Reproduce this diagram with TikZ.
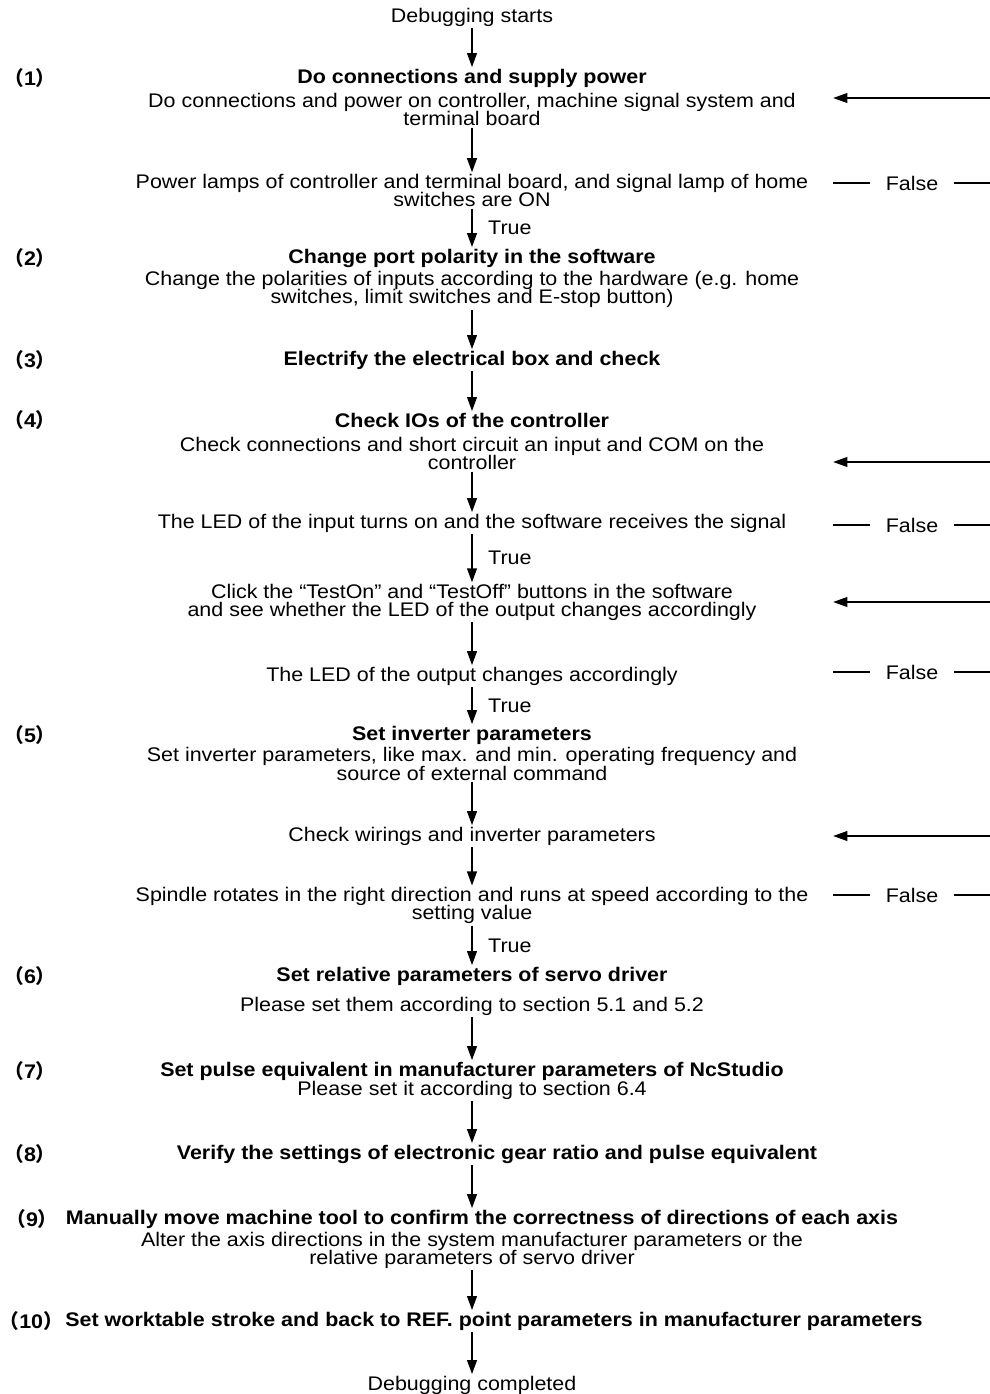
\documentclass[tikz,border=0pt]{standalone}
\usepackage{fontspec}
\setmainfont{Liberation Sans}[FakeStretch=1.09]
\newfontfamily\cjk{Noto Sans CJK SC}
\usetikzlibrary{arrows.meta}

\newcommand\fnt{\fontsize{14pt}{13.1pt}\selectfont\lineskiplimit=-20pt\relax}
\newcommand\stepno[1]{{\cjk （}#1{\cjk ）}}

\begin{document}
\begin{tikzpicture}[>={Triangle[length=10pt,width=7pt]},font=\fnt,
 txt/.style={align=center,inner sep=1pt,font=\fnt},
 head/.style={align=center,inner sep=1pt,font=\fnt\bfseries},
 num/.style={inner sep=0pt,font=\fnt\bfseries},
 flow/.style={->,line width=1.1pt},
 back/.style={line width=0.8pt},
 yes/.style={right=11pt,inner sep=0pt,font=\fnt},
 no/.style={inner xsep=11pt,inner ysep=1pt,font=\fnt}]
\useasboundingbox (0,0) rectangle (24.75,-34.85);
\clip (0,0) rectangle (24.75,-34.85);
\coordinate (ax) at (11.8,0);
% main column
\node[txt] (start) at (11.8,-0.425) {Debugging starts};
\node[head] (s1h) at (11.8,-1.95) {Do connections and supply power};
\node[txt] (s1) at (11.8,-2.74) {Do connections and power on controller, machine signal system and\\terminal board};
\node[txt] (c1) at (11.8,-4.76) {Power lamps of controller and terminal board, and signal lamp of home\\switches are ON};
\node[head] (s2h) at (11.8,-6.45) {Change port polarity in the software};
\node[txt] (s2) at (11.8,-7.24) {Change the polarities of inputs according to the hardware (e.g. home\\switches, limit switches and E-stop button)};
\node[head] (s3) at (11.8,-9.0) {Electrify the electrical box and check};
\node[head] (s4h) at (11.8,-10.5) {Check IOs of the controller};
\node[txt] (s4) at (11.8,-11.34) {Check connections and short circuit an input and COM on the\\controller};
\node[txt] (c4a) at (11.8,-13.075) {The LED of the input turns on and the software receives the signal};
\node[txt] (t4) at (11.8,-15.06) {Click the “TestOn” and “TestOff” buttons in the software\\and see whether the LED of the output changes accordingly};
\node[txt] (c4b) at (11.8,-16.9) {The LED of the output changes accordingly};
\node[head] (s5h) at (11.8,-18.375) {Set inverter parameters};
\node[txt] (s5) at (11.8,-19.1) {Set inverter parameters, like max. and min. operating frequency and\\source of external command};
\node[txt] (w5) at (11.8,-20.9) {Check wirings and inverter parameters};
\node[txt] (c5) at (11.8,-22.64) {Spindle rotates in the right direction and runs at speed according to the\\setting value};
\node[head] (s6h) at (11.8,-24.4) {Set relative parameters of servo driver};
\node[txt] (s6) at (11.8,-25.15) {Please set them according to section 5.1 and 5.2};
\node[head] (s7h) at (11.8,-26.775) {Set pulse equivalent in manufacturer parameters of NcStudio};
\node[txt] (s7) at (11.8,-27.25) {Please set it according to section 6.4};
\node[head] (s8) at (12.425,-28.85) {Verify the settings of electronic gear ratio and pulse equivalent};
\node[head] (s9h) at (12.05,-30.475) {Manually move machine tool to confirm the correctness of directions of each axis};
\node[txt] (s9) at (11.8,-31.26) {Alter the axis directions in the system manufacturer parameters or the\\relative parameters of servo driver};
\node[head] (s10) at (12.35,-33.025) {Set worktable stroke and back to REF. point parameters in manufacturer parameters};
\node[txt] (end) at (11.8,-34.625) {Debugging completed};
% step numbers
\node[num] (n1) at (0.75,-1.95) {\stepno{1}};
\node[num] (n2) at (0.75,-6.45) {\stepno{2}};
\node[num] (n3) at (0.75,-9.0) {\stepno{3}};
\node[num] (n4) at (0.75,-10.5) {\stepno{4}};
\node[num] (n5) at (0.75,-18.375) {\stepno{5}};
\node[num] (n6) at (0.75,-24.4) {\stepno{6}};
\node[num] (n7) at (0.75,-26.775) {\stepno{7}};
\node[num] (n8) at (0.75,-28.85) {\stepno{8}};
\node[num] (n9) at (0.8,-30.475) {\stepno{9}};
\node[num] (n10) at (0.78,-33.025) {\stepno{10}};
% arrows down
\draw[flow] (start) -- (s1h);
\draw[flow] (s1) -- (c1);
\draw[flow] (c1) -- node[yes] {True} (s2h);
\draw[flow] (s2) -- (s3);
\draw[flow] (s3) -- (s4h);
\draw[flow] (s4) -- (c4a);
\draw[flow] (c4a) -- node[yes] {True} (t4);
\draw[flow] (t4) -- (c4b);
\draw[flow] (c4b) -- node[yes] {True} (s5h);
\draw[flow] (s5) -- (w5);
\draw[flow] (w5) -- (c5);
\draw[flow] (c5) -- node[yes] {True} (s6h);
\draw[flow] (s6) -- (s7h);
\draw[flow] (s7.south) -- (s8.north -| ax);
\draw[flow] (s8.south -| ax) -- (s9h.north -| ax);
\draw[flow] (s9) -- (s10.north -| ax);
\draw[flow] (s10.south -| ax) -- (end);
% false branches
\node[no] (f1) at (22.8,-4.575) {False};
\node[no] (f4a) at (22.8,-13.125) {False};
\node[no] (f4b) at (22.8,-16.8) {False};
\node[no] (f5) at (22.8,-22.375) {False};
\coordinate (o1) at (20.83,-4.575);
\coordinate (o4a) at (20.83,-13.125);
\coordinate (o4b) at (20.83,-16.8);
\coordinate (o5) at (20.83,-22.375);
\coordinate (i1) at (20.83,-2.45);
\coordinate (i4a) at (20.83,-11.55);
\coordinate (i4b) at (20.83,-15.05);
\coordinate (i5) at (20.83,-20.9);
\draw[back] (o1) -- (f1);
\draw[back] (o4a) -- (f4a);
\draw[back] (o4b) -- (f4b);
\draw[back] (o5) -- (f5);
\draw[back,->] (f1) -- (25.4,-4.575) |- (i1);
\draw[back,->] (f4a) -- (25.4,-13.125) |- (i4a);
\draw[back,->] (f4b) -- (25.6,-16.8) |- (i4b);
\draw[back,->] (f5) -- (25.4,-22.375) |- (i5);
\end{tikzpicture}
\end{document}
